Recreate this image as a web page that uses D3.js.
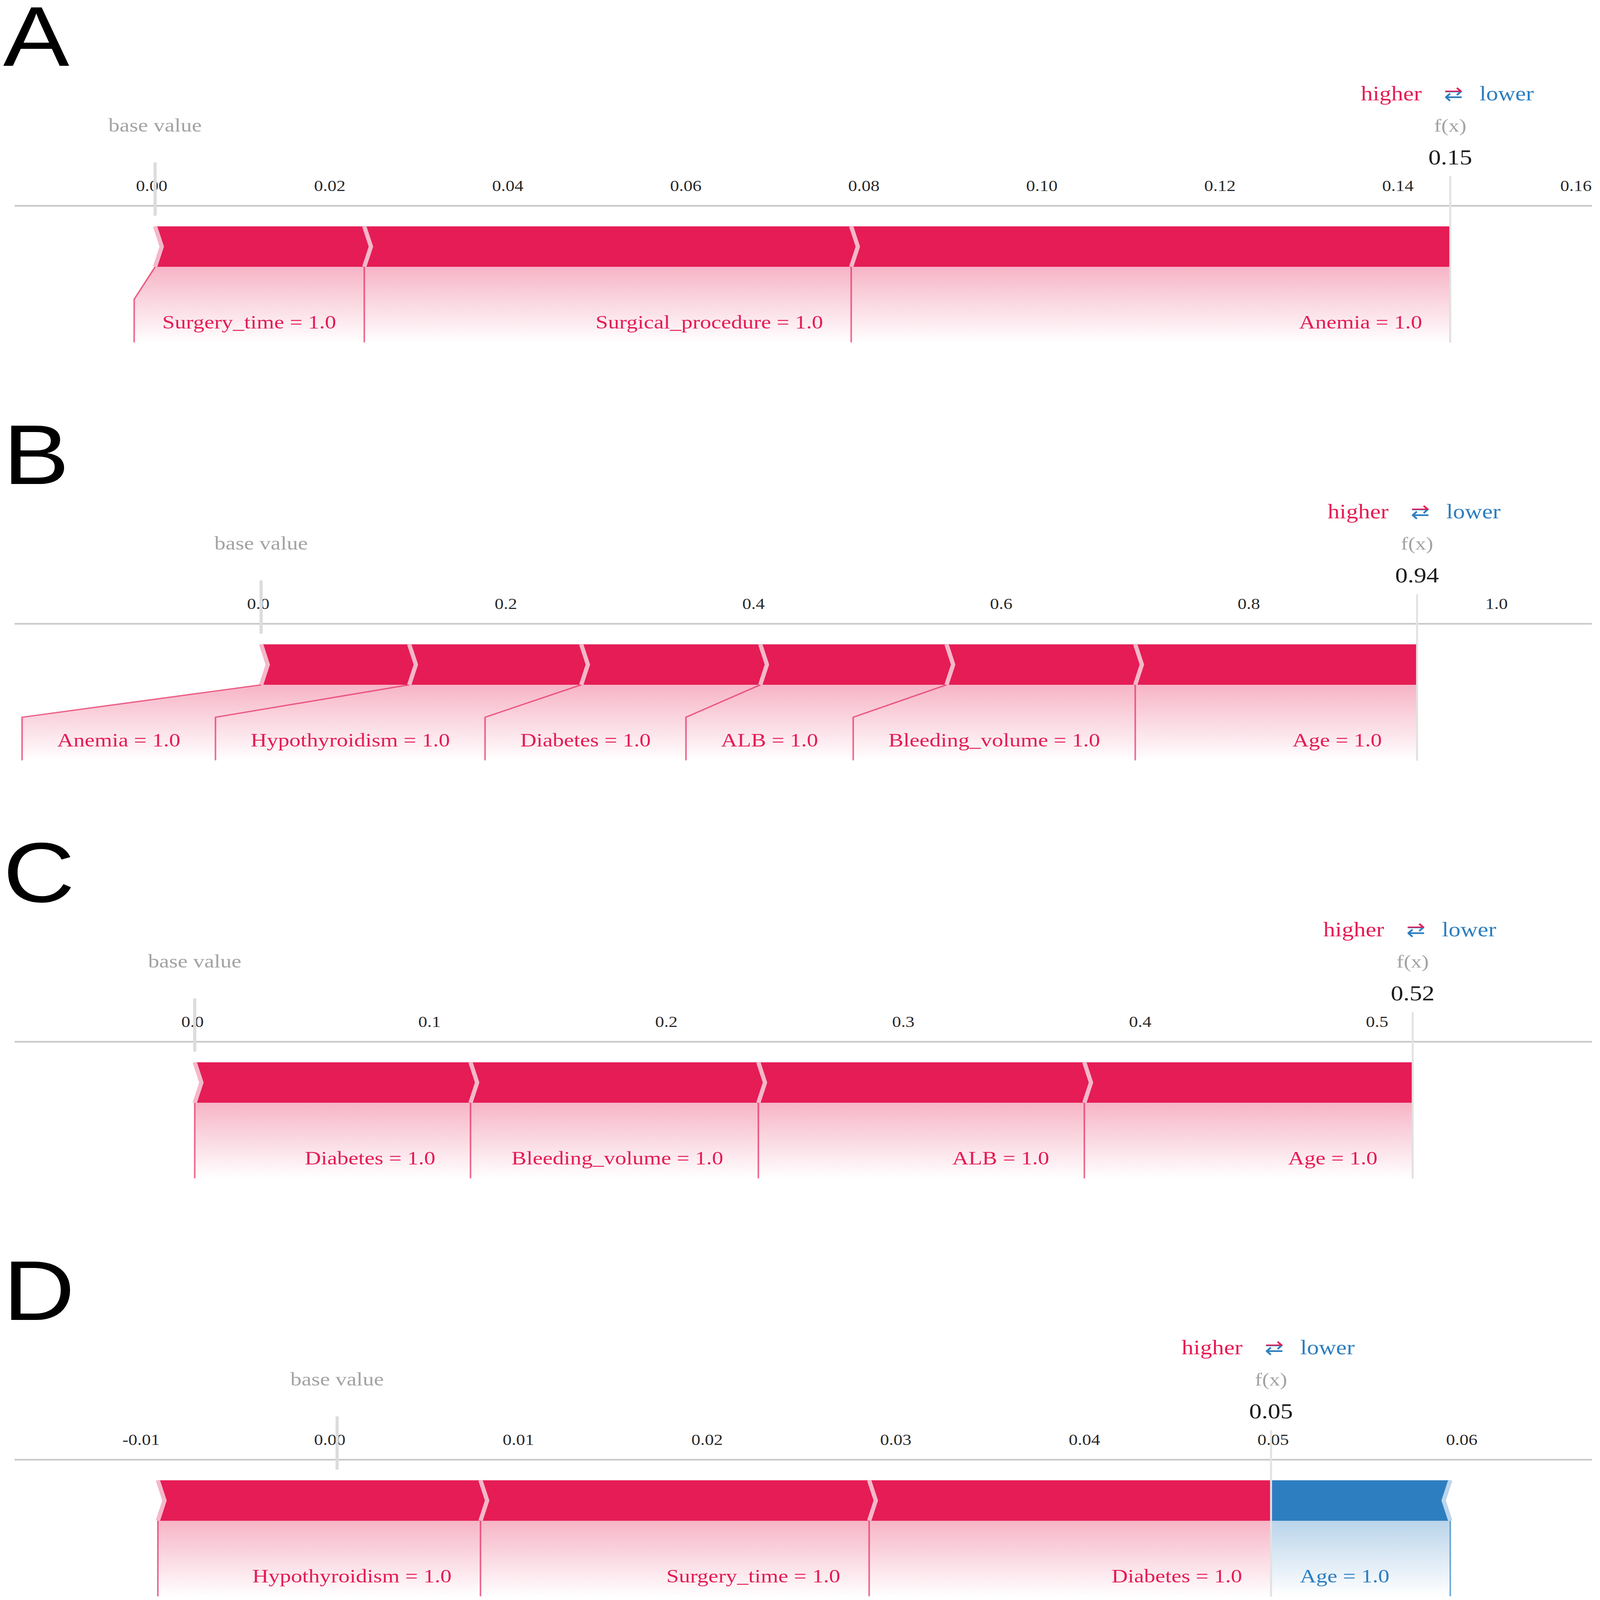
<!DOCTYPE html>
<html>
<head>
<meta charset="utf-8">
<script src="https://cdn.jsdelivr.net/npm/d3@7"></script>
<style>
  html, body { margin: 0; padding: 0; background: #fff; overflow: hidden; }
  svg { display: block; }
  .serif { font-family: "Liberation Serif", "Times New Roman", serif; }
</style>
</head>
<body>
<svg id="chart"></svg>
<script>

// values (shap force plots, four patients)
var panelLetters = ["A", "B", "C", "D"];
var baseValues   = [0.0004, 0.0025, 0.001, 0.0004];

var axisDomains  = [[-0.0154, 0.1618], [-0.1967, 1.0771], [-0.0751, 0.5907], [-0.0167, 0.0669]];
var tickValues   = [
	[0, 0.02, 0.04, 0.06, 0.08, 0.10, 0.12, 0.14, 0.16],
	[0, 0.2, 0.4, 0.6, 0.8, 1.0],
	[0, 0.1, 0.2, 0.3, 0.4, 0.5],
	[-0.01, 0, 0.01, 0.02, 0.03, 0.04, 0.05, 0.06]
];
var tickFormats  = [".2f", ".1f", ".1f", ".2f"];

var featuresA = ["Surgery_time", "Surgical_procedure", "Anemia"];
var effectsA  = [0.0235, 0.0547, 0.0673];
var valuesA   = ["1.0", "1.0", "1.0"];

var featuresB = ["Anemia", "Hypothyroidism", "Diabetes", "ALB", "Bleeding_volume", "Age"];
var effectsB  = [0.1196, 0.1389, 0.1446, 0.1504, 0.1524, 0.2276];
var valuesB   = ["1.0", "1.0", "1.0", "1.0", "1.0", "1.0"];

var featuresC = ["Diabetes", "Bleeding_volume", "ALB", "Age"];
var effectsC  = [0.1164, 0.1215, 0.1376, 0.1386];
var valuesC   = ["1.0", "1.0", "1.0", "1.0"];

var featuresD = ["Hypothyroidism", "Surgery_time", "Diabetes", "Age"];
var effectsD  = [0.0171, 0.0206, 0.0213, -0.0095];
var valuesD   = ["1.0", "1.0", "1.0", "1.0"];

var labelPad  = [72, 90, 90, 74];   // gap between label text and its box edge


var RED = "#e51c55", BLUE = "#2d7ec0";
var RED_LIGHT = "#f4b8ca", BLUE_LIGHT = "#bcd5ec";

var W = 4095, H = 4785;
var panelStep = 1250;
var xLeft = 37, xRight = 4074;
var axisY = 615, barTop = 677, barBot = 798, slopeY = 895, boxBot = 1024;
var tip = 17;

// plain hyphen for negative ticks, like the original
var locale = d3.formatLocale({decimal: ".", thousands: ",", grouping: [3], currency: ["", ""], minus: "-"});

// the drawing is laid out on a 4095x4785 sheet and stretched to whatever window we get
var svg = d3.select("#chart")
	.attr("viewBox", "0 0 " + W + " " + H)
	.attr("preserveAspectRatio", "none")
	.attr("width", window.innerWidth || W)
	.attr("height", window.innerHeight || H);
var defs = svg.append("defs");

function addGradient(id, color) {
	var gr = defs.append("linearGradient")
		.attr("id", id)
		.attr("gradientUnits", "userSpaceOnUse")
		.attr("x1", 0).attr("x2", 0)
		.attr("y1", barBot).attr("y2", boxBot);
	gr.append("stop").attr("offset", "0").attr("stop-color", color).attr("stop-opacity", 0.33);
	gr.append("stop").attr("offset", "1").attr("stop-color", color).attr("stop-opacity", 0);
}
addGradient("gradRed", RED);
addGradient("gradBlue", BLUE);

// two-colour fill for the ⇄ sign: red arrow on top, blue below
var arrowGrad = defs.append("linearGradient")
	.attr("id", "arrowGrad")
	.attr("gradientUnits", "userSpaceOnUse")
	.attr("x1", 0).attr("x2", 0)
	.attr("y1", 250).attr("y2", 300);
arrowGrad.append("stop").attr("offset", "0").attr("stop-color", RED);
arrowGrad.append("stop").attr("offset", "0.5").attr("stop-color", RED);
arrowGrad.append("stop").attr("offset", "0.5").attr("stop-color", BLUE);
arrowGrad.append("stop").attr("offset", "1").attr("stop-color", BLUE);


function drawPanel(i, names, effects, vals) {

	var g = svg.append("g")
		.attr("class", "serif")
		.attr("transform", "translate(0," + (i * panelStep) + ")");
	var x = d3.scaleLinear().domain(axisDomains[i]).range([xLeft, xRight]);
	var base = baseValues[i];
	var fx = base + d3.sum(effects);
	var pad = labelPad[i];
	var mid = (barTop + barBot) / 2;

	// stack: red ones end at f(x), blue ones start at f(x)
	var pos = [], neg = [];
	var cur = fx - d3.sum(effects.filter(function (e) { return e > 0; }));
	effects.forEach(function (e, j) {
		if (e > 0) {
			pos.push({label: names[j] + " = " + vals[j], v0: cur, v1: cur + e});
			cur += e;
		}
	});
	cur = fx;
	effects.forEach(function (e, j) {
		if (e < 0) {
			neg.push({label: names[j] + " = " + vals[j], v0: cur, v1: cur - e});
			cur -= e;
		}
	});

	var backG = g.append("g"), divG = g.append("g"), blockG = g.append("g");
	var textG = g.append("g");

	// measure the label texts first
	pos.concat(neg).forEach(function (s) {
		s.node = textG.append("text")
			.attr("y", 983)
			.attr("font-size", 57.5)
			.attr("fill", pos.indexOf(s) >= 0 ? RED : BLUE)
			.text(s.label);
		s.tw = s.node.node().getComputedTextLength();
	});

	// label boxes, laid out outward from f(x)
	var prev = null;
	for (var k = pos.length - 1; k >= 0; k--) {
		var s = pos[k];
		s.bR = prev === null ? x(s.v1) : Math.min(x(s.v1), prev);
		s.bL = Math.min(x(s.v0), s.bR - (s.tw + 2 * pad));
		prev = s.bL;
		s.node.attr("x", s.bR - pad).attr("text-anchor", "end");
	}
	prev = null;
	neg.forEach(function (s) {
		s.bL = prev === null ? x(s.v0) : Math.max(x(s.v0), prev);
		s.bR = Math.max(x(s.v1), s.bL + s.tw + 2 * pad);
		prev = s.bR;
		s.node.attr("x", s.bL + pad).attr("text-anchor", "start");
	});

	function backing(s, grad) {
		backG.append("path")
			.attr("d", "M" + x(s.v0) + "," + barBot + "L" + x(s.v1) + "," + barBot +
				"L" + s.bR + "," + slopeY + "L" + s.bR + "," + boxBot +
				"L" + s.bL + "," + boxBot + "L" + s.bL + "," + slopeY + "Z")
			.attr("fill", "url(#" + grad + ")");
	}
	function divider(xa, xb, col) {
		divG.append("path")
			.attr("d", "M" + xa + "," + barBot + "L" + xb + "," + slopeY + "L" + xb + "," + boxBot)
			.attr("fill", "none")
			.attr("stroke", col)
			.attr("stroke-opacity", 0.65)
			.attr("stroke-width", 4);
	}

	pos.forEach(function (s) {
		backing(s, "gradRed");
		divider(x(s.v0), s.bL, RED);
	});
	if (pos.length) divider(x(fx), pos[pos.length - 1].bR, RED);
	neg.forEach(function (s) {
		backing(s, "gradBlue");
		divider(x(s.v1), s.bR, BLUE);
	});
	if (!pos.length && neg.length) divider(x(fx), neg[0].bL, BLUE);

	// force blocks
	pos.forEach(function (s, k) {
		var a = x(s.v0), b = x(s.v1);
		var last = (k === pos.length - 1);
		blockG.append("path")
			.attr("d", "M" + a + "," + barTop + "L" + b + "," + barTop +
				"L" + (last ? b : b + tip) + "," + mid + "L" + b + "," + barBot +
				"L" + a + "," + barBot + "L" + (a + tip) + "," + mid + "Z")
			.attr("fill", RED);
	});
	neg.forEach(function (s, k) {
		var a = x(s.v0), b = x(s.v1);
		var first = (k === 0);
		blockG.append("path")
			.attr("d", "M" + a + "," + barTop + "L" + b + "," + barTop +
				"L" + (b - tip) + "," + mid + "L" + b + "," + barBot +
				"L" + a + "," + barBot + "L" + (first ? a : a - tip) + "," + mid + "Z")
			.attr("fill", BLUE);
	});
	// light chevron seams
	pos.forEach(function (s) {
		var a = x(s.v0);
		blockG.append("path")
			.attr("d", "M" + a + "," + barTop + "L" + (a + tip) + "," + mid + "L" + a + "," + barBot)
			.attr("fill", "none").attr("stroke", RED_LIGHT).attr("stroke-width", 11);
	});
	neg.forEach(function (s) {
		var b = x(s.v1);
		blockG.append("path")
			.attr("d", "M" + b + "," + barTop + "L" + (b - tip) + "," + mid + "L" + b + "," + barBot)
			.attr("fill", "none").attr("stroke", BLUE_LIGHT).attr("stroke-width", 11);
	});

	// axis
	var ax = g.append("g")
		.attr("transform", "translate(0," + axisY + ")")
		.call(d3.axisTop(x)
			.tickValues(tickValues[i])
			.tickFormat(locale.format(tickFormats[i]))
			.tickSize(0)
			.tickSizeOuter(0)
			.tickPadding(44));
	ax.attr("font-family", null).attr("font-size", null);
	ax.select(".domain").attr("stroke", "#c9c9c9").attr("stroke-width", 5);
	ax.selectAll("text")
		.attr("font-size", 46)
		.attr("fill", "#2a2a2a");

	// base value and f(x) markers
	g.append("line")
		.attr("x1", x(base)).attr("x2", x(base))
		.attr("y1", 486).attr("y2", 645)
		.attr("stroke", "#dcdcdc").attr("stroke-width", 8);
	g.append("line")
		.attr("x1", x(fx)).attr("x2", x(fx))
		.attr("y1", 527).attr("y2", boxBot)
		.attr("stroke", "#e2e2e2").attr("stroke-width", 5);

	g.append("text")
		.attr("x", x(base)).attr("y", 394)
		.attr("text-anchor", "middle")
		.attr("font-size", 57)
		.attr("fill", "#a3a3a3")
		.text("base value");
	g.append("text")
		.attr("x", x(fx)).attr("y", 394)
		.attr("text-anchor", "middle")
		.attr("font-size", 55)
		.attr("fill", "#a3a3a3")
		.text("f(x)");
	g.append("text")
		.attr("x", x(fx)).attr("y", 492)
		.attr("text-anchor", "middle")
		.attr("font-size", 64)
		.attr("fill", "#1c1c1c")
		.text(d3.format(".2f")(fx));

	// higher <-> lower legend
	g.append("text")
		.attr("x", x(fx) - 73).attr("y", 300)
		.attr("text-anchor", "end")
		.attr("font-size", 61)
		.attr("fill", RED)
		.text("higher");
	g.append("text")
		.attr("x", x(fx) + 75).attr("y", 300)
		.attr("font-size", 61)
		.attr("fill", BLUE)
		.text("lower");
	g.append("text")
		.attr("x", x(fx) + 8).attr("y", 300)
		.attr("text-anchor", "middle")
		.style("font-family", "'DejaVu Sans', sans-serif")
		.attr("font-size", 58)
		.attr("fill", "url(#arrowGrad)")
		.text("\u21c4");

	// panel letter
	g.append("text")
		.attr("x", 8).attr("y", 197)
		.style("font-family", "'Liberation Sans', Arial, sans-serif")
		.attr("font-size", 254)
		.attr("fill", "#000")
		.text(panelLetters[i]);
}

drawPanel(0, featuresA, effectsA, valuesA);
drawPanel(1, featuresB, effectsB, valuesB);
drawPanel(2, featuresC, effectsC, valuesC);
drawPanel(3, featuresD, effectsD, valuesD);

</script>
</body>
</html>
